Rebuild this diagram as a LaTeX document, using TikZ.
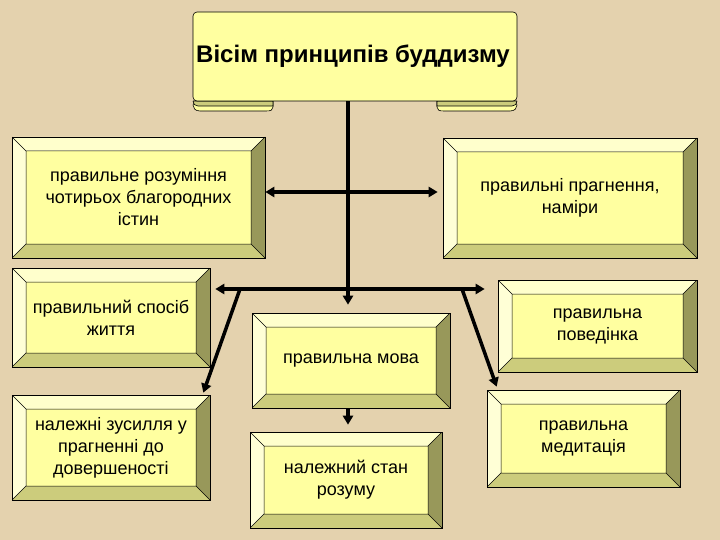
\documentclass[tikz,border=0pt]{standalone}
\usepackage{fontspec}
\setmainfont{Liberation Sans}
\usetikzlibrary{arrows.meta,calc}
\definecolor{parchment}{RGB}{228,210,174}
\definecolor{faceY}{RGB}{255,255,160}
\definecolor{bevTop}{RGB}{255,255,204}
\definecolor{bevLeft}{RGB}{255,255,214}
\definecolor{bevRight}{RGB}{152,152,90}
\definecolor{bevBot}{RGB}{204,204,124}

\begin{document}
\begin{tikzpicture}[x=1pt, y=-1pt,
  bevbox/.style={rectangle, draw=black, line width=0.6pt, fill=faceY, inner sep=0pt, align=center,
    font=\fontsize{18}{22}\selectfont,
    path picture={
      \coordinate (A) at (path picture bounding box.north west);
      \coordinate (B) at (path picture bounding box.north east);
      \coordinate (C) at (path picture bounding box.south east);
      \coordinate (D) at (path picture bounding box.south west);
      \coordinate (a) at ($(A)+(14pt,-14pt)$);
      \coordinate (b) at ($(B)+(-14pt,-14pt)$);
      \coordinate (c) at ($(C)+(-14pt,14pt)$);
      \coordinate (d) at ($(D)+(14pt,14pt)$);
      \fill[bevTop] (A) -- (B) -- (b) -- (a) -- cycle;
      \fill[bevRight] (B) -- (C) -- (c) -- (b) -- cycle;
      \fill[bevBot] (C) -- (D) -- (d) -- (c) -- cycle;
      \fill[bevLeft] (D) -- (A) -- (a) -- (d) -- cycle;
      \draw[line width=0.5pt] (a) rectangle (c) (A) -- (a) (B) -- (b) (C) -- (c) (D) -- (d);
    }},
  arr/.style={-{Triangle[length=9pt,width=10pt]}, line width=3.5pt},
  arrs/.style={{Triangle[length=9pt,width=10pt]}-{Triangle[length=9pt,width=10pt]}, line width=3.5pt}
]
\useasboundingbox[fill=parchment] (0,0) rectangle (720,540);

\filldraw[fill=faceY, line width=0.6pt] (195,101) -- (273,101) -- (273,107) .. controls (273,110) and (271,111) .. (266,111) -- (200,111) .. controls (195,111) and (193,108) .. (193,105) -- cycle;
\filldraw[fill=bevBot, line width=0.6pt] (193,101) -- (273,101) -- (273,106) -- (198,106) .. controls (195,106) and (193,104) .. (193,101);
\filldraw[fill=faceY, line width=0.6pt] (515,101) -- (437,101) -- (437,107) .. controls (437,110) and (439,111) .. (444,111) -- (510,111) .. controls (515,111) and (517,108) .. (517,105) -- cycle;
\filldraw[fill=bevBot, line width=0.6pt] (517,101) -- (437,101) -- (437,106) -- (512,106) .. controls (515,106) and (517,104) .. (517,101);
\filldraw[fill=faceY, line width=0.6pt, rounded corners=4pt] (193,101) -- (193,12) -- (517,12) -- (517,101) -- cycle;
\node[minimum width=324pt, minimum height=89pt, font=\fontsize{24}{28}\selectfont\bfseries] (banner) at (353,56.5) {Вісім принципів буддизму};

\node[bevbox, minimum width=253pt, minimum height=121pt] (rozum) at (138.5,197.5) {правильне розуміння\\чотирьох благородних\\істин};
\node[bevbox, minimum width=254pt, minimum height=120pt] (pragn) at (570,198) {правильні прагнення,\\наміри};
\node[bevbox, minimum width=198pt, minimum height=99pt] (sposib) at (111,317.5) {правильний спосіб\\життя};
\node[bevbox, minimum width=199pt, minimum height=92pt] (povedinka) at (597.5,326) {правильна\\поведінка};
\node[bevbox, minimum width=198pt, minimum height=95pt] (mova) at (351,360.5) {правильна мова};
\node[bevbox, minimum width=198pt, minimum height=105pt] (zusyllia) at (111,447.5) {належні зусилля у\\прагненні до\\довершеності};
\node[bevbox, minimum width=192pt, minimum height=96pt] (stan) at (346,480) {належний стан\\розуму};
\node[bevbox, minimum width=193pt, minimum height=97pt] (medytatsia) at (583.5,438.5) {правильна\\медитація};

\coordinate (j1) at (348,192);
\coordinate (j2) at (348,289);
\coordinate (d1) at (240,289);
\coordinate (d2) at (462,289);

\draw[arr] (banner.south -| j1) -- ([yshift=8pt]mova.north -| j1);
\draw[arrs, shorten >=5pt] (rozum.east |- j1) -- (pragn.west |- j1);
\draw[arrs, shorten <=5pt, shorten >=13pt] (sposib.east |- j2) -- (povedinka.west |- j2);
\draw[arr] (d1) -- ([xshift=-7pt,yshift=2pt]zusyllia.north east);
\draw[arr] (d2) -- ([xshift=10pt,yshift=3pt]medytatsia.north west);
\draw[arr] (mova.south -| j1) -- ([yshift=7pt]stan.north -| j1);
\end{tikzpicture}
\end{document}
